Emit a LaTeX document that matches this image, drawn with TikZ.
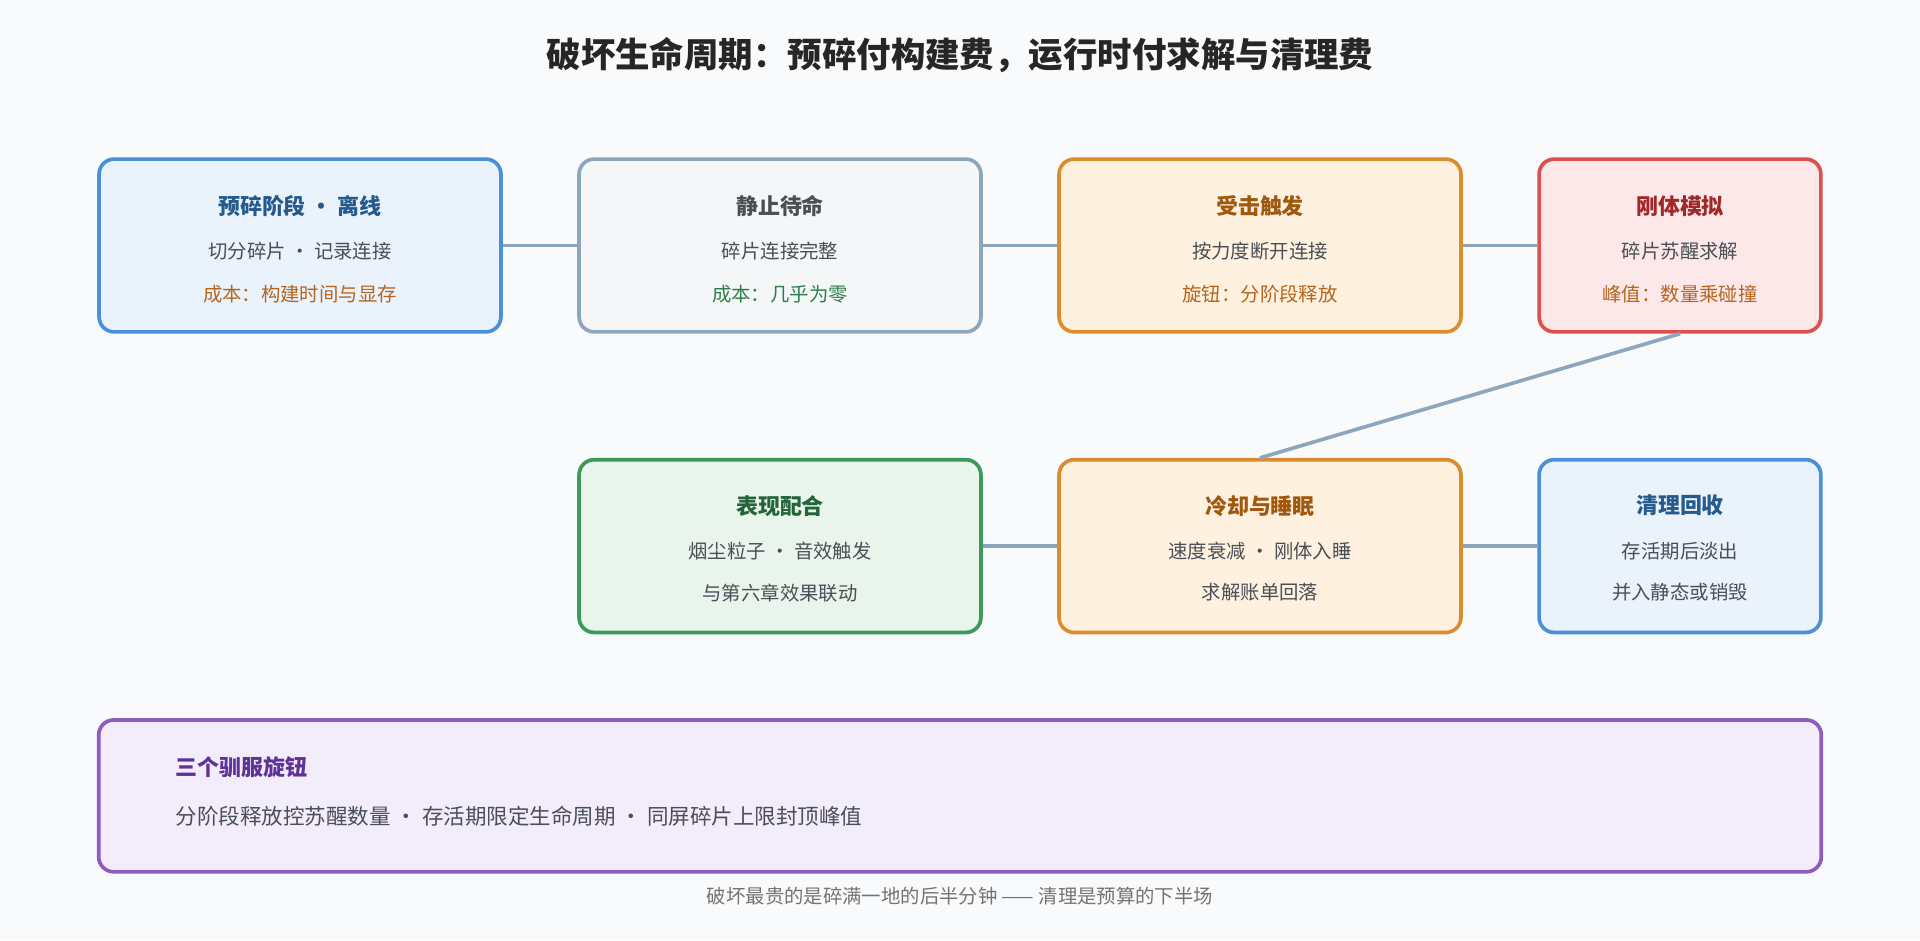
\documentclass[tikz,border=0pt]{standalone}
\usepackage{fontspec}
\setmainfont{Noto Sans CJK SC}
\definecolor{bgc}{HTML}{F8FAFC}
\definecolor{linec}{HTML}{8CA6BE}
\definecolor{blueb}{HTML}{4A90D9}\definecolor{bluef}{HTML}{EAF2FC}\definecolor{bluet}{HTML}{245A8C}
\definecolor{grayb}{HTML}{8CA6BE}\definecolor{grayf}{HTML}{F4F6F8}\definecolor{grayt}{HTML}{4A4F55}
\definecolor{orab}{HTML}{DB8C2C}\definecolor{oraf}{HTML}{FEF1E0}\definecolor{orat}{HTML}{A0570E}
\definecolor{redb}{HTML}{DC5050}\definecolor{redf}{HTML}{FCE8E8}\definecolor{redt}{HTML}{A02828}
\definecolor{greb}{HTML}{3A9A5A}\definecolor{gref}{HTML}{E9F4EC}\definecolor{gret}{HTML}{23643A}
\definecolor{purb}{HTML}{8E5CC0}\definecolor{purf}{HTML}{F3ECFA}\definecolor{purt}{HTML}{5E3296}
\definecolor{txt}{HTML}{4A4F55}\definecolor{cost}{HTML}{B5651D}\definecolor{costg}{HTML}{2E7D4A}
\tikzset{
  stage/.style={draw, line width=0.85pt, rounded corners=3.5pt, minimum width=3.28cm, minimum height=1.41cm},
  head/.style={font=\fontsize{5.1}{6}\selectfont\bfseries},
  body/.style={font=\fontsize{4.5}{5}\selectfont, text=txt},
  link/.style={draw=linec, line width=0.85pt}
}
\begin{document}
\begin{tikzpicture}[x=0.01cm, y=-0.01cm]
  \fill[bgc] (0,0) rectangle (1568,768);
  % title
  \node[font=\fontsize{8}{9}\selectfont\bfseries, text=black!85] (title) at (784,45) {破坏生命周期：预碎付构建费，运行时付求解与清理费};
  % upper row
  \node[stage, draw=blueb, fill=bluef] (pre) at (245,200.5) {};
  \node[stage, draw=grayb, fill=grayf] (idle) at (637,200.5) {};
  \node[stage, draw=orab, fill=oraf] (hit) at (1029,200.5) {};
  \node[stage, draw=redb, fill=redf, minimum width=2.3cm] (rigid) at (1372,200.5) {};
  % lower row
  \node[stage, draw=greb, fill=gref] (fx) at (637,446) {};
  \node[stage, draw=orab, fill=oraf] (cool) at (1029,446) {};
  \node[stage, draw=blueb, fill=bluef, minimum width=2.3cm] (clean) at (1372,446) {};
  % connectors
  \draw[link] (pre) -- (idle);
  \draw[link] (idle) -- (hit);
  \draw[link] (hit) -- (rigid);
  \draw[link] (rigid.south) -- (cool.north);
  \draw[link] (fx) -- (cool);
  \draw[link] (cool) -- (clean);
  % texts
  \node[head, text=bluet] at (245,168) {预碎阶段 • 离线};
  \node[body] at (245,205) {切分碎片 · 记录连接};
  \node[body, text=cost] at (245,240) {成本：构建时间与显存};
  \node[head, text=grayt] at (637,168) {静止待命};
  \node[body] at (637,205) {碎片连接完整};
  \node[body, text=costg] at (637,240) {成本：几乎为零};
  \node[head, text=orat] at (1029,168) {受击触发};
  \node[body] at (1029,205) {按力度断开连接};
  \node[body, text=cost] at (1029,240) {旋钮：分阶段释放};
  \node[head, text=redt] at (1372,168) {刚体模拟};
  \node[body] at (1372,205) {碎片苏醒求解};
  \node[body, text=cost] at (1372,240) {峰值：数量乘碰撞};
  \node[head, text=gret] at (637,413) {表现配合};
  \node[body] at (637,450) {烟尘粒子 · 音效触发};
  \node[body] at (637,484) {与第六章效果联动};
  \node[head, text=orat] at (1029,413) {冷却与睡眠};
  \node[body] at (1029,450) {速度衰减 · 刚体入睡};
  \node[body] at (1029,484) {求解账单回落};
  \node[head, text=bluet] at (1372,413) {清理回收};
  \node[body] at (1372,450) {存活期后淡出};
  \node[body] at (1372,484) {并入静态或销毁};
  % knobs box
  \node[stage, draw=purb, fill=purf, minimum width=14.06cm, minimum height=1.24cm] (knobs) at (784,650) {};
  \node[head, text=purt, anchor=west] at (131,627) {三个驯服旋钮};
  \node[body, anchor=west, font=\fontsize{5}{6}\selectfont] at (131,667) {分阶段释放控苏醒数量 · 存活期限定生命周期 · 同屏碎片上限封顶峰值};
  \node[body, text=black!55] (foot) at (784,732) {破坏最贵的是碎满一地的后半分钟 —— 清理是预算的下半场};
\end{tikzpicture}
\end{document}
